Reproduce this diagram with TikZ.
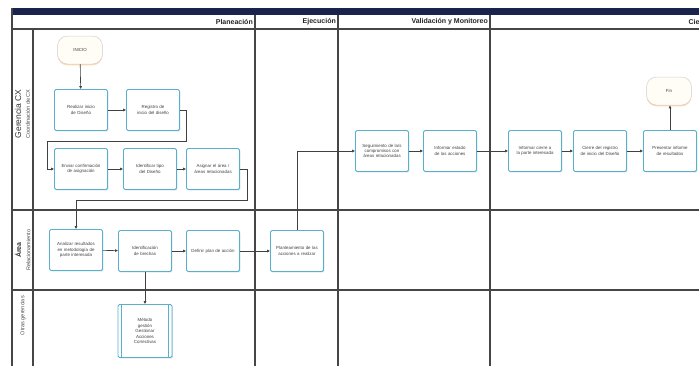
\documentclass[tikz,border=0pt]{standalone}
\usepackage{fontspec}
\setmainfont{Liberation Sans}
\usetikzlibrary{arrows.meta,shadows}
\definecolor{taskb}{RGB}{88,176,204}
\definecolor{navybar}{RGB}{24,36,78}
\definecolor{gridc}{RGB}{70,70,70}
\definecolor{termfill}{RGB}{255,253,245}
\begin{document}
\begin{tikzpicture}[x=1pt,y=-1pt,
  task/.style={draw=taskb, line width=0.8pt, fill=white, rounded corners=1.5pt,
    minimum width=53pt, minimum height=41pt, text width=47pt, align=center,
    text=black!75, font=\fontsize{4.4}{5.4}\selectfont, inner sep=1pt,
    execute at begin node={\hyphenpenalty=10000\exhyphenpenalty=10000},
    drop shadow={shadow xshift=0.9pt, shadow yshift=-0.9pt, opacity=0.35, fill=taskb!60!gray}},
  term/.style={draw=gray!35, line width=0.5pt, fill=termfill, rounded corners=10pt,
    minimum width=45pt, minimum height=28pt, align=center, text=black!75,
    font=\fontsize{4.4}{5.4}\selectfont,
    drop shadow={shadow xshift=0pt, shadow yshift=-1.3pt, opacity=0.6, fill=orange!55}},
  conn/.style={draw=black!75, line width=0.6pt, -{Latex[length=3pt,width=3pt]}},
  grid/.style={draw=gridc, line width=1.1pt},
  phase/.style={anchor=east, inner sep=0pt, font=\bfseries\fontsize{7}{8}\selectfont, text=black!85},
  lanemain/.style={rotate=90, inner sep=0pt, font=\fontsize{8.5}{9}\selectfont, text=black!80},
  lanesub/.style={rotate=90, inner sep=0pt, font=\fontsize{5.5}{6}\selectfont, text=black!70}
]
\path[use as bounding box] (0,0) rectangle (699,365);
\clip (0,0) rectangle (699,365);
\fill[white] (0,0) rectangle (699,365);

% ---- pool frame ----
\fill[navybar] (12,7.5) rectangle (720,14.5);
\draw[grid] (12,7.5) -- (12,380);
\draw[grid] (12,29) -- (720,29);
\draw[grid] (33,29) -- (33,380);
\draw[grid] (255,14.5) -- (255,380);
\draw[grid] (338,14.5) -- (338,380);
\draw[grid] (490,14.5) -- (490,380);
\draw[grid] (12,210) -- (720,210);
\draw[grid] (12,290) -- (720,290);

% ---- phase labels ----
\node[phase] (ph1) at (253,21.5) {Planeación};
\node[phase] (ph2) at (336,21.5) {Ejecución};
\node[phase] (ph3) at (488,21.5) {Validación y Monitoreo};
\node[phase] (ph4) at (709,21.5) {Cierre};

% ---- lane labels ----
\node[lanemain] (l1a) at (18,114) {Gerencia CX};
\node[lanesub]  (l1b) at (28,114) {Coordinación de CX};
\node[lanemain, font=\bfseries\fontsize{7}{8}\selectfont] (l2a) at (18,250) {Área};
\node[lanesub]  (l2b) at (28.5,250) {Relacionamiento};
\node[lanesub, anchor=east] (l3a) at (23,296) {Otras gerencias};

% ---- lane 1 ----
\node[term] (start) at (80,50) {INICIO};
\node[task] (A) at (81,110) {Realizar inicio de Diseño};
\node[task] (B) at (153,110) {Registro de inicio del diseño};
\node[task] (C) at (81,169) {Enviar confirmación de asignación};
\node[task] (D) at (150,169) {Identificar tipo del Diseño};
\node[task] (E) at (213,169) {Asignar el área / áreas relacionadas};

\node[task] (K) at (382,151) {Seguimiento de la/s compromisos con áreas relacionadas};
\node[task] (L) at (450,151) {Informar estado de las acciones};
\node[task] (M) at (535,151) {Informar cierre a la parte interesada};
\node[task] (N) at (600,151) {Cierre del registro de inicio del Diseño};
\node[task] (O) at (670,151) {Presentar informe de resultados};
\node[term] (fin) at (669,91) {Fin};

% ---- lane 2 ----
\node[task] (F) at (76,250) {Analizar resultados en metodología de parte interesada};
\node[task] (G) at (145,251) {Identificación de brechas};
\node[task] (H) at (213,251) {Definir plan de acción};
\node[task] (I) at (297,251) {Planteamiento de las acciones a realizar};

% ---- lane 3 ----
\node[task, minimum height=53pt, minimum width=54pt, text width=40pt] (J) at (145,331)
  {Método\\ gestión\\ Gestionar\\ Acciones\\ Correctivas};
\draw[taskb, line width=0.6pt] ([xshift=4pt]J.north west) -- ([xshift=4pt]J.south west);
\draw[taskb, line width=0.6pt] ([xshift=-4pt]J.north east) -- ([xshift=-4pt]J.south east);

% ---- connectors ----
\coordinate (b1) at (186,141);
\coordinate (b2) at (47,141);
\coordinate (e1) at (247,200);
\coordinate (e2) at (76,200);

\draw[conn] (start) -- (A);
\draw[conn] (A) -- (B);
\draw[conn] (B.east) -| (b1) -- (b2) |- (C.west);
\draw[conn] (C) -- (D);
\draw[conn] (D) -- (E);
\draw[conn] (E.east) -| (e1) -- (e2) -- (F.north);
\draw[conn] (F) -- (G);
\draw[conn] (G) -- (H);
\draw[conn] (H) -- (I);
\draw[conn] (G) -- (J);
\draw[conn] (I.north) |- (K.west);
\draw[conn] (K) -- (L);
\draw[conn] (L) -- (M);
\draw[conn] (M) -- (N);
\draw[conn] (N) -- (O);
\draw[conn] (O.north) -- (O.north |- fin.south);
\end{tikzpicture}
\end{document}
